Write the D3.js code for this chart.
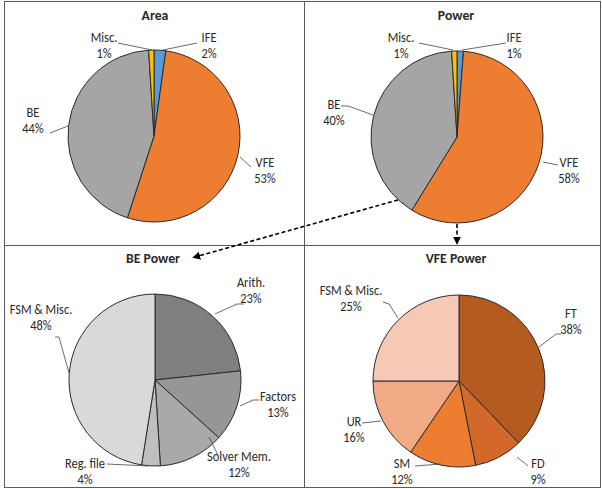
<!DOCTYPE html>
<html><head><meta charset="utf-8">
<script src="https://cdn.jsdelivr.net/npm/d3@7"></script>
<style>
body{margin:0;background:#fff}
text{font-family:Carlito,Calibri,Lato,"Open Sans",sans-serif;fill:#2a2a2a}
</style></head>
<body><svg id="c" width="602" height="489"></svg>
<script>
// ---- data ----
const areaNames = ["IFE","VFE","BE","Misc."];
const areaValues = [2.2,52.8,44.0,1.0];
const areaPct = ["2%","53%","44%","1%"];
const areaColors = ["#5b9bd5","#ed7d31","#a5a5a5","#ffc000"];

const powerNames = ["IFE","VFE","BE","Misc."];
const powerValues = [1.2,57.6,40.2,1.0];
const powerPct = ["1%","58%","40%","1%"];
const powerColors = ["#5b9bd5","#ed7d31","#a5a5a5","#ffc000"];

const beNames = ["Arith.","Factors","Solver Mem.","Reg. file","FSM & Misc."];
const beValues = [23.3,13.4,12.3,3.5,47.5];
const bePct = ["23%","13%","12%","4%","48%"];
const beColors = ["#7f7f7f","#969696","#a9a9a9","#bfbfbf","#d9d9d9"];

const vfeNames = ["FT","FD","SM","UR","FSM & Misc."];
const vfeValues = [37.8,9.1,12.6,15.5,25.0];
const vfePct = ["38%","9%","12%","16%","25%"];
const vfeColors = ["#b45b21","#d2692a","#ed7d31","#f2aa85","#f6c8b6"];

// ---- layout (label text positions and leader lines, absolute px) ----
const panels = [
  {title:"Area", tx:155, ty:20, cx:154, cy:136, names:areaNames, values:areaValues, pct:areaPct, colors:areaColors,
   labels:[{x:209,y:42,pts:[[197,43],[163,50]]},
           {x:265,y:167,pts:[[251,167],[240,157]]},
           {x:33,y:117,pts:[[50,133],[68,126]]},
           {x:104,y:42,pts:[[118,43],[152,50]]}]},
  {title:"Power", tx:456, ty:20, cx:457, cy:137, names:powerNames, values:powerValues, pct:powerPct, colors:powerColors,
   labels:[{x:514,y:42,pts:[[506,43],[462,50]]},
           {x:569,y:167,pts:[[558,165],[543,162]]},
           {x:334,y:109,pts:[[341,106],[348,106],[373,115]]},
           {x:401,y:42,pts:[[419,43],[453,50]]}]},
  {title:"BE Power", tx:153, ty:263, cx:155, cy:380, names:beNames, values:beValues, pct:bePct, colors:beColors,
   labels:[{x:251,y:287,pts:[[244,304],[237,304],[215,314]]},
           {x:278,y:401,pts:[[259,400],[253,400],[240,406]]},
           {x:239,y:461,pts:[[209,437],[218,455]]},
           {x:85,y:468,pts:[[107,464],[148,466]]},
           {x:41,y:314,pts:[[55,337],[59,337],[69,373]]}]},
  {title:"VFE Power", tx:456, ty:263, cx:459, cy:381, names:vfeNames, values:vfeValues, pct:vfePct, colors:vfeColors,
   labels:[{x:571,y:318,pts:[[561,334],[556,334],[539,347]]},
           {x:538,y:468,pts:[[517,457],[528,466]]},
           {x:402,y:468,pts:[[415,466],[441,464]]},
           {x:354,y:426,pts:[[362,423],[381,421]]},
           {x:351,y:295,pts:[[383,302],[389,304],[398,318]]}]}
];
const R = 86;

const svg = d3.select("#c");
// frame
svg.append("rect").attr("x",4.5).attr("y",1.5).attr("width",596).attr("height",486)
  .attr("fill","none").attr("stroke","#595959").attr("stroke-width",1);
svg.append("line").attr("x1",304.5).attr("x2",304.5).attr("y1",1.5).attr("y2",487.5).attr("stroke","#595959");
svg.append("line").attr("x1",4.5).attr("x2",600.5).attr("y1",245.5).attr("y2",245.5).attr("stroke","#595959");

const pie = d3.pie().sort(null).value(d=>d);
const arc = d3.arc().innerRadius(0).outerRadius(R);
const line = d3.line();

panels.forEach(p=>{
  const g = svg.append("g").attr("transform",`translate(${p.cx},${p.cy})`);
  g.selectAll("path").data(pie(p.values)).join("path")
    .attr("d",arc).attr("fill",(d,i)=>p.colors[i])
    .attr("stroke","#2b2b2b").attr("stroke-width",1).attr("stroke-linejoin","round");
  svg.append("text").attr("transform",`translate(${p.tx},${p.ty}) scale(0.95,1)`).attr("text-anchor","middle")
    .attr("font-size",14.5).attr("font-weight","bold").text(p.title);
  p.labels.forEach((L,i)=>{
    svg.append("path").attr("d",line(L.pts)).attr("fill","none").attr("stroke","#444").attr("stroke-width",0.8);
    const t = svg.append("text").attr("transform",`translate(${L.x},${L.y}) scale(0.92,1)`)
      .attr("text-anchor","middle").attr("font-size",13.5);
    t.append("tspan").attr("x",0).attr("y",0).text(p.names[i]);
    t.append("tspan").attr("x",0).attr("y",16).text(p.pct[i]);
  });
});

// arrows
const defs = svg.append("defs");
defs.append("marker").attr("id","ah").attr("viewBox","0 0 10 10").attr("refX",9).attr("refY",5)
  .attr("markerWidth",5).attr("markerHeight",5).attr("orient","auto")
  .append("path").attr("d","M0,0L10,5L0,10z").attr("fill","#000");
svg.append("line").attr("x1",398).attr("y1",200).attr("x2",193).attr("y2",257.5)
  .attr("stroke","#000").attr("stroke-width",1.6).attr("stroke-dasharray","4,2.5").attr("marker-end","url(#ah)");
svg.append("line").attr("x1",457).attr("y1",224).attr("x2",457).attr("y2",244)
  .attr("stroke","#000").attr("stroke-width",1.6).attr("stroke-dasharray","4,2.5").attr("marker-end","url(#ah)");
</script></body></html>
